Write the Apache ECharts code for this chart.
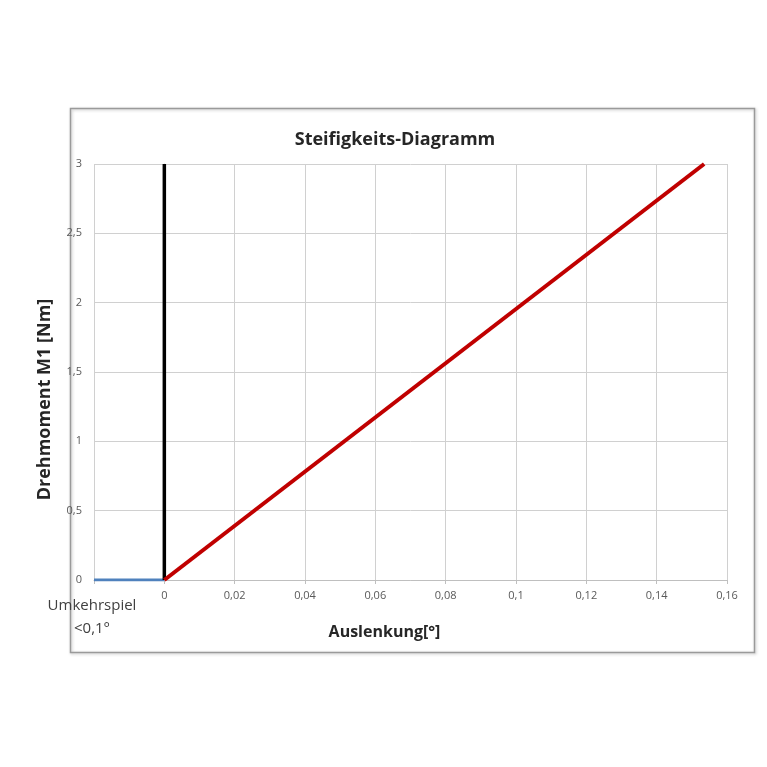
<!DOCTYPE html>
<html><head><meta charset="utf-8">
<script src="https://cdn.jsdelivr.net/npm/echarts@6/dist/echarts.min.js"></script>
<style>html,body{margin:0;padding:0;background:#fff}#c{width:767px;height:767px}</style>
</head><body><div id="c"></div>
<script>
const stiffnessX = [0, 0.1535];
const stiffnessY = [0, 3];
const backlashX = [-0.02, 0];
const backlashY = [0, 0];
const zeroLineX = [0, 0];
const zeroLineY = [0, 3];
const xTicks = [-0.02, 0, 0.02, 0.04, 0.06, 0.08, 0.1, 0.12, 0.14, 0.16];
const yTicks = [0, 0.5, 1, 1.5, 2, 2.5, 3];

const zip = (a, b) => a.map((v, i) => [v, b[i]]);
const fmt = v => String(v).replace('.', ',');
const chart = echarts.init(document.getElementById('c'));
chart.setOption({
  animation: false,
  backgroundColor: '#fff',
  graphic: [{
    type: 'rect', shape: {x: 70.5, y: 108.5, width: 684, height: 544},
    style: {fill: 'none', stroke: '#9a9a9a', lineWidth: 1.5, shadowColor: 'rgba(0,0,0,0.25)', shadowBlur: 3, shadowOffsetX: 1, shadowOffsetY: 1}
  }, {
    type: 'text', x: 92, y: 594,
    style: {text: 'Umkehrspiel\n<0,1°', fill: '#404040', font: '15px "Open Sans", sans-serif', textAlign: 'center', lineHeight: 23}
  }],
  title: {
    text: 'Steifigkeits-Diagramm', left: 390, top: 126, textAlign: 'center',
    textStyle: {fontFamily: '"Open Sans", sans-serif', fontSize: 18, fontWeight: 'bold', color: '#262626'}
  },
  grid: {left: 94, right: 40, top: 164, bottom: 187},
  xAxis: {
    type: 'value', min: xTicks[0], max: xTicks[xTicks.length - 1], interval: 0.02,
    name: 'Auslenkung[°]', nameLocation: 'middle', nameGap: 44,
    nameTextStyle: {fontFamily: '"Open Sans", sans-serif', fontSize: 16, fontWeight: 'bold', color: '#262626', padding: [0, 52, 0, 0]},
    axisLine: {show: true, onZero: false, lineStyle: {color: '#bfbfbf'}},
    axisTick: {show: true, length: 4, lineStyle: {color: '#bfbfbf'}},
    axisLabel: {color: '#595959', fontSize: 11, fontFamily: '"Open Sans", sans-serif', margin: 10,
      formatter: v => (Math.abs(v + 0.02) < 1e-9 ? '' : fmt(+v.toFixed(2)))},
    splitLine: {show: true, lineStyle: {color: '#d0d0d0'}}
  },
  yAxis: {
    type: 'value', min: yTicks[0], max: yTicks[yTicks.length - 1], interval: 0.5,
    name: 'Drehmoment M1 [Nm]', nameLocation: 'middle', nameGap: 40, nameRotate: 90,
    nameTextStyle: {fontFamily: '"Open Sans", sans-serif', fontSize: 18, fontWeight: 'bold', color: '#262626', padding: [0, 0, 0, -55]},
    axisLine: {show: true, lineStyle: {color: '#d0d0d0'}},
    axisTick: {show: false},
    axisLabel: {color: '#595959', fontSize: 11, fontFamily: '"Open Sans", sans-serif', margin: 12, formatter: v => fmt(v)},
    splitLine: {show: true, lineStyle: {color: '#d0d0d0'}}
  },
  series: [{
    type: 'line', data: zip(backlashX, backlashY), showSymbol: false,
    lineStyle: {color: '#4F81BD', width: 3}
  }, {
    type: 'line', data: zip(zeroLineX, zeroLineY), showSymbol: false,
    lineStyle: {color: '#000', width: 3.5}
  }, {
    type: 'line', data: zip(stiffnessX, stiffnessY), showSymbol: false,
    lineStyle: {color: '#C00000', width: 4}
  }]
});
</script></body></html>
